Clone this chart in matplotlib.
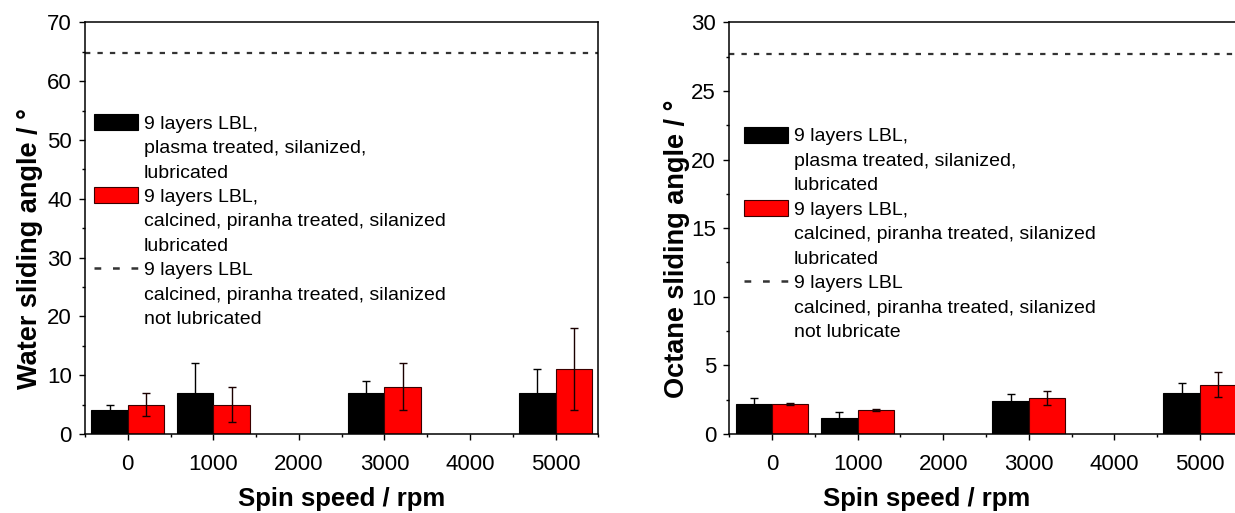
import matplotlib
matplotlib.use("Agg")
import matplotlib.pyplot as plt
import numpy as np
from matplotlib.patches import Rectangle
from matplotlib.lines import Line2D
from matplotlib.ticker import MultipleLocator

plt.rcParams['font.family'] = ['Liberation Sans', 'DejaVu Sans']

# ---------------- data ----------------
spin_speeds = [0, 1000, 3000, 5000]
tick_values = [0, 1000, 2000, 3000, 4000, 5000]

water_black = [4, 7, 7, 7]
water_black_err = [1, 5, 2, 4]
water_red = [5, 5, 8, 11]
water_red_err = [2, 3, 4, 7]
water_not_lubricated = 64.7

octane_black = [2.2, 1.2, 2.4, 3.0]
octane_black_err = [0.45, 0.38, 0.5, 0.7]
octane_red = [2.2, 1.75, 2.6, 3.6]
octane_red_err = [0.08, 0.06, 0.5, 0.9]
octane_not_lubricated = 27.7

legend_labels_water = ["9 layers LBL,", "plasma treated, silanized,", "lubricated",
                       "9 layers LBL,", "calcined, piranha treated, silanized", "lubricated",
                       "9 layers LBL", "calcined, piranha treated, silanized", "not lubricated"]
legend_labels_octane = ["9 layers LBL,", "plasma treated, silanized,", "lubricated",
                        "9 layers LBL,", "calcined, piranha treated, silanized", "lubricated",
                        "9 layers LBL", "calcined, piranha treated, silanized", "not lubricate"]

W, H = 1235, 513
fig = plt.figure(figsize=(W / 100, H / 100), dpi=100)

bar_w = 425
x = np.array(spin_speeds, dtype=float)


def panel(rect, black, black_err, red, red_err, dashed, ymax, ymajor, yminor,
          ylabel, labels, leg_anchor, ylab_coords, xlab_coords):
    ax = fig.add_axes(rect)
    ax.bar(x - bar_w / 2, black, bar_w, color='black', edgecolor='black', linewidth=0.8, zorder=2)
    ax.bar(x + bar_w / 2, red, bar_w, color='#ff0000', edgecolor='#3a0000', linewidth=0.8, zorder=2)
    ax.errorbar(x - bar_w / 2, black, yerr=black_err, fmt='none', ecolor='black',
                elinewidth=1.0, capsize=3, capthick=1.0, zorder=3)
    ax.errorbar(x + bar_w / 2, red, yerr=red_err, fmt='none', ecolor='#1a0000',
                elinewidth=1.0, capsize=3, capthick=1.0, zorder=3)
    ax.axhline(dashed, color='#333333', linewidth=1.6, dashes=(2.4, 3.2), zorder=2)

    ax.set_xlim(-500, 5500)
    ax.set_ylim(0, ymax)
    ax.set_xticks(tick_values)
    ax.set_xticklabels([str(v) for v in tick_values])
    ax.xaxis.set_minor_locator(MultipleLocator(500))
    ax.yaxis.set_major_locator(MultipleLocator(ymajor))
    ax.yaxis.set_minor_locator(MultipleLocator(yminor))
    ax.tick_params(which='both', direction='out', top=False, right=False, width=1.0)
    ax.tick_params(which='major', length=4.5, labelsize=16)
    ax.tick_params(axis='y', which='major', pad=5)
    ax.tick_params(axis='x', which='major', pad=10)
    ax.tick_params(which='minor', length=2.5)
    for s in ax.spines.values():
        s.set_linewidth(1.1)

    ax.set_ylabel(ylabel, fontsize=19.5, fontweight='bold')
    ax.set_xlabel("Spin speed / rpm", fontsize=18.5, fontweight='bold')
    ax.yaxis.set_label_coords(*ylab_coords)
    ax.xaxis.set_label_coords(*xlab_coords)

    blank = Rectangle((0, 0), 1, 1, facecolor='none', edgecolor='none')
    h_black = Rectangle((0, 0), 1, 1, facecolor='black', edgecolor='black', linewidth=0.8)
    h_red = Rectangle((0, 0), 1, 1, facecolor='#ff0000', edgecolor='#3a0000', linewidth=0.8)
    h_dash = Line2D([], [], color='#333333', linewidth=1.8, dashes=(2.7, 4.7))
    handles = [h_black, blank, blank, h_red, blank, blank, h_dash, blank, blank]
    ax.legend(handles, labels, loc='upper left', bbox_to_anchor=leg_anchor,
              frameon=False, fontsize=14, borderpad=0, borderaxespad=0,
              handlelength=2.26, handleheight=0.87, handletextpad=0.3,
              labelspacing=0.3)
    return ax


ax1 = panel([85 / W, (H - 434) / H, 513.3 / W, 411.7 / H],
            water_black, water_black_err, water_red, water_red_err,
            water_not_lubricated, 70, 10, 5, "Water sliding angle / °",
            legend_labels_water, (0.0175, 0.777), (-0.082, 0.45), (0.5, -0.128))

ax2 = panel([729.3 / W, (H - 434) / H, 513.3 / W, 411.7 / H],
            octane_black, octane_black_err, octane_red, octane_red_err,
            octane_not_lubricated, 30, 5, 2.5, "Octane sliding angle / °",
            legend_labels_octane, (0.0292, 0.746), (-0.0766, 0.45), (0.385, -0.128))

fig.savefig("out.png", dpi=100)
